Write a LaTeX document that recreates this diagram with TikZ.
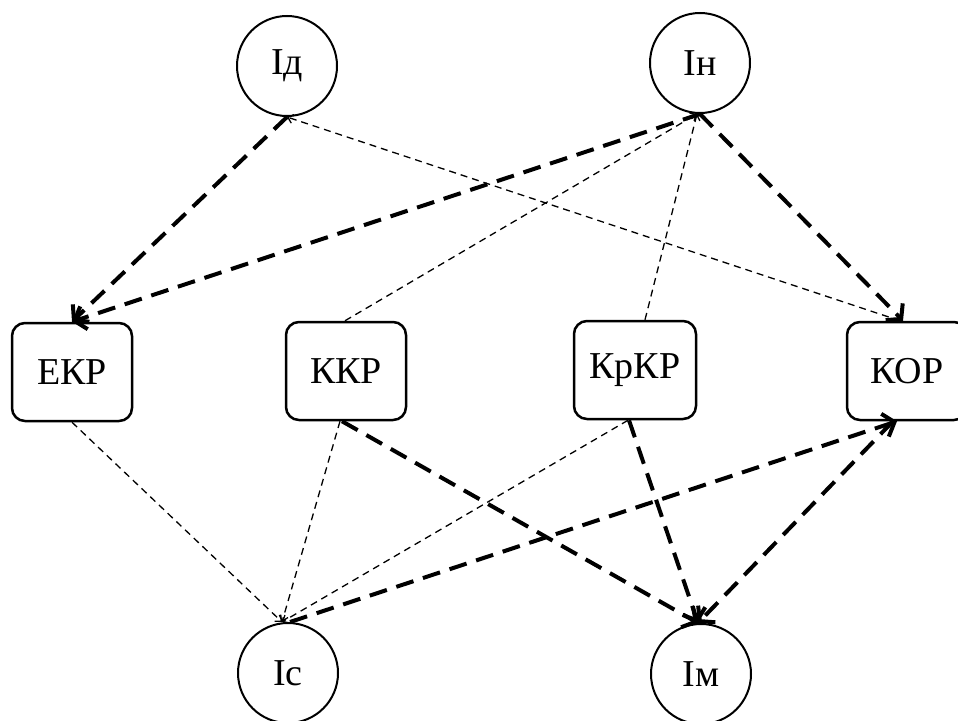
\documentclass[tikz,border=0pt]{standalone}
\usepackage{fontspec}
\setmainfont{Liberation Serif}
\usetikzlibrary{arrows.meta}
\begin{document}
\begin{tikzpicture}[x=1pt,y=-1pt,
 circ/.style={circle,draw,line width=2pt,minimum size=100pt,inner sep=0pt,font=\fontsize{38}{42}\selectfont},
 rbox/.style={rectangle,rounded corners=13pt,draw,line width=2.5pt,minimum width=120pt,minimum height=98pt,inner sep=0pt,font=\fontsize{38}{42}\selectfont},
 strong/.style={line width=4pt,dash pattern=on 18pt off 10pt,-{Straight Barb[length=10pt,width=24pt]}},
 weak/.style={line width=1.3pt,dash pattern=on 7pt off 5pt,-{Straight Barb[length=5pt,width=9pt]}}]
\useasboundingbox (0,0) rectangle (958,720);
\node[circ] (Id) at (287,66) {Ід};
\node[circ] (In) at (700,63) {Ін};
\node[circ] (Ic) at (288,673) {Іс};
\node[circ] (Im) at (701,674) {Ім};
\node[rbox] (EKP) at (72,372) {ЕКР};
\node[rbox] (KKP) at (346,371) {ККР};
\node[rbox,minimum width=122pt] (KpKP) at (635,370) {КрКР};
\node[rbox] (KOP) at (907,371) {КОР};
\draw[strong] (Id.south) -- (EKP.north);
\draw[strong] (In.south) -- (EKP.north);
\draw[strong] (In.south) -- ([xshift=-4pt]KOP.north);
\draw[weak] ([xshift=-7pt]KOP.north) -- (Id.south);
\draw[weak] ([xshift=-1pt]KKP.north) -- ([xshift=-3pt]In.south);
\draw[weak] ([xshift=10pt]KpKP.north) -- ([xshift=-3pt]In.south);
\draw[weak] (EKP.south) -- ([xshift=-6pt]Ic.north);
\draw[weak] ([xshift=-6pt]KKP.south) -- ([xshift=-6pt]Ic.north);
\draw[weak] ([xshift=-7pt]KpKP.south) -- ([xshift=-6pt]Ic.north);
\draw[strong] ([xshift=2pt]Ic.north) -- ([xshift=-10pt]KOP.south);
\draw[strong] ([xshift=-4pt]KKP.south) -- ([xshift=-3pt]Im.north);
\draw[strong] ([xshift=-6pt]KpKP.south) -- ([xshift=-3pt]Im.north);
\draw[strong] ([xshift=-14pt]KOP.south) -- ([xshift=-3pt]Im.north);
\end{tikzpicture}
\end{document}
